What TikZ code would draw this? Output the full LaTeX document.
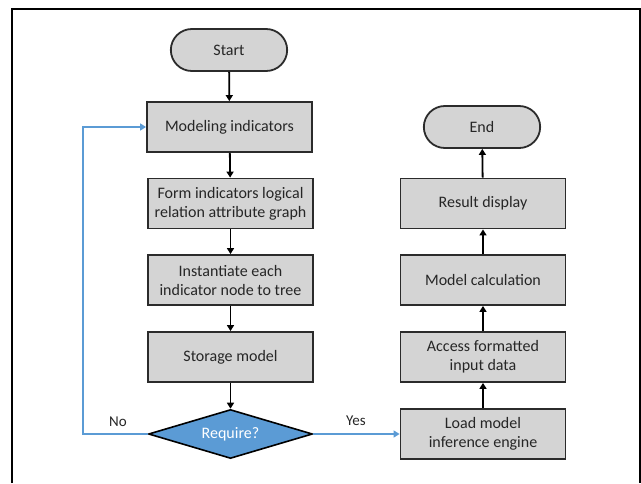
\documentclass[tikz,border=0pt]{standalone}
\usepackage{fontspec}
\setmainfont{Carlito}
\usetikzlibrary{shapes.geometric,shapes.misc,arrows.meta}
\definecolor{boxgray}{HTML}{D4D4D4}
\definecolor{boxedge}{HTML}{2B2B2B}
\definecolor{flowblue}{HTML}{5B9BD5}
\definecolor{txt}{HTML}{262626}
\begin{document}
\begin{tikzpicture}[x=1pt,y=-1pt,
  every node/.style={font=\fontsize{16}{19}\selectfont, text=txt},
  procbox/.style={draw=boxedge, line width=1.8pt, fill=boxgray, minimum width=165pt, minimum height=50pt, inner sep=2pt, align=center},
  termbox/.style={draw=boxedge, line width=1.8pt, fill=boxgray, rounded rectangle, minimum width=123pt, minimum height=42pt},
  decbox/.style={draw=black, line width=1.6pt, fill=flowblue, diamond, aspect=3.35, minimum width=164pt, minimum height=49pt, inner sep=0pt, text=white},
  blackarrow/.style={draw=black, line width=1.8pt, -{Triangle[length=6pt,width=7pt]}},
  bluearrow/.style={draw=flowblue, line width=1.4pt, -{Triangle[length=6pt,width=7pt]}},
  lbl/.style={font=\fontsize{15}{17}\selectfont, text=txt}
]
\useasboundingbox (0,0) rectangle (641,483);
\draw[line width=2pt, black] (11.5,483) -- (11.5,9) -- (639.5,9) -- (639.5,483);

\node[termbox] (start) at (229,50) {Start};
\node[procbox] (model) at (229.5,127) {Modeling indicators};
\node[procbox] (form) at (230.5,203.5) {Form indicators logical\\relation attribute graph};
\node[procbox] (inst) at (230.5,280) {Instantiate each\\indicator node to tree};
\node[procbox] (store) at (230.5,357) {Storage model};
\node[decbox] (req) at (230.5,434) {Require?};

\node[termbox] (end) at (482,127) {End};
\node[procbox] (result) at (483,203.5) {Result display};
\node[procbox] (calc) at (483,280) {Model calculation};
\node[procbox] (access) at (483,357) {Access formatted\\input data};
\node[procbox] (load) at (483,434) {Load model\\inference engine};

\coordinate (nocorner1) at (83,434);
\coordinate (nocorner2) at (83,127);

\draw[blackarrow] (start) -- (model);
\draw[blackarrow] (model) -- (form);
\draw[blackarrow] (form) -- (inst);
\draw[blackarrow] (inst) -- (store);
\draw[blackarrow] (store) -- (req);

\draw[blackarrow] (load) -- (access);
\draw[blackarrow] (access) -- (calc);
\draw[blackarrow] (calc) -- (result);
\draw[blackarrow] (result) -- (end);

\draw[bluearrow] (req.west) -- (nocorner1) -- (nocorner2) -- (model.west);
\draw[bluearrow] (req.east) -- (load.west);

\node[lbl] (nolbl) at (118,422) {No};
\node[lbl] (yeslbl) at (356,421) {Yes};
\end{tikzpicture}
\end{document}
